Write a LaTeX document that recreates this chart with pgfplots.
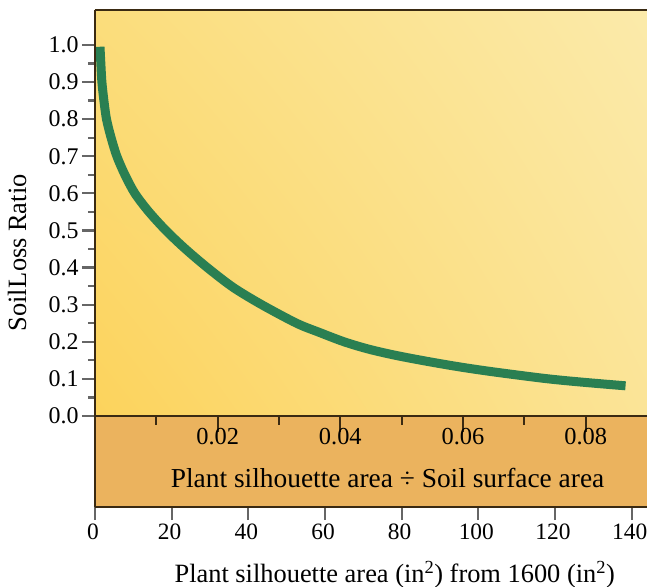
\documentclass[border=0pt]{standalone}
\usepackage{pgfplots}
\pgfplotsset{compat=1.18}
\usepackage{pgfplotstable}
\usetikzlibrary{shadings}
\usepackage{fontspec}
\setmainfont{Liberation Serif}

\definecolor{curvegreen}{HTML}{2A7F52}
\definecolor{band}{HTML}{EBB35E}
\definecolor{frame}{HTML}{3A2A12}
\definecolor{tickgray}{HTML}{666666}
\definecolor{yelLL}{HTML}{FCD35C}
\definecolor{yelUL}{HTML}{FBDD7C}
\definecolor{yelLR}{HTML}{FBE497}
\definecolor{yelUR}{HTML}{FBEAAA}

% soil loss ratio vs plant silhouette area (in^2)
\pgfplotstableread{
x     y
1.3   0.995
1.5   0.955
1.8   0.90
2.3   0.852
3.0   0.80
4.2   0.75
5.7   0.70
7.8   0.65
10.4  0.60
14    0.551
18.5  0.50
23.5  0.451
29.3  0.40
36    0.347
43.5  0.30
52.6  0.25
58.5  0.2255
65    0.20
71.5  0.18
78.7  0.163
87.4  0.146
96    0.131
104.7 0.118
118   0.1005
128   0.0905
138.4 0.0815
}\soilloss

\begin{document}
\begin{tikzpicture}[x=1bp,y=1bp]
\begin{axis}[
	name=main, at={(0,0)}, anchor=south west,
	scale only axis, width=552bp, height=497bp,
	xmin=0, xmax=144, ymin=-0.245, ymax=1.094,
	axis on top,
	axis x line*=bottom, axis y line*=left,
	axis line style={frame, line width=1.6bp},
	tick align=outside,
	major tick length=13bp, minor tick length=7bp,
	every tick/.style={tickgray, line width=2.2bp},
	ytick={0,0.1,0.2,0.3,0.4,0.5,0.6,0.7,0.8,0.9,1.0},
	minor ytick={0.05,0.15,0.25,0.35,0.45,0.55,0.65,0.75,0.85,0.95},
	xtick={0,20,40,60,80,100,120,140},
	tick label style={font=\fontsize{24}{24}\selectfont},
	yticklabel style={/pgf/number format/.cd, fixed, fixed zerofill, precision=1, assume math mode=true},
	xticklabel style={/pgf/number format/assume math mode=true, font=\fontsize{23.5}{23.5}\selectfont, xshift=-2bp},
	label style={font=\fontsize{26.5}{26.5}\selectfont},
	xlabel={Plant silhouette area (in\textsuperscript{2}) from 1600 (in\textsuperscript{2})},
	xlabel style={at={(axis description cs:0.543,0)}, anchor=center, yshift=-68bp},
	ylabel={Soil\hspace{1pt}Loss Ratio},
	ylabel style={at={(axis description cs:-0.1413,0.511)}, anchor=center},
]
	\shade[lower left=yelLL, upper left=yelUL, lower right=yelLR, upper right=yelUR]
		(axis cs:0,0) rectangle (axis cs:144,1.094);
	\fill[band] (axis cs:0,-0.245) rectangle (axis cs:144,0);
	\addplot[curvegreen, line width=9bp, line cap=butt, smooth, no markers] table[x=x, y=y] {\soilloss};
	\draw[frame, line width=1.6bp] (axis cs:0,0) -- (axis cs:144,0);
	\draw[frame, line width=3bp] (axis cs:0,1.094) -- (axis cs:144,1.094);
\end{axis}

\begin{axis}[
	at={(0,0)}, anchor=south west,
	scale only axis, width=552bp, height=91bp,
	xmin=0, xmax=0.09, ymin=0, ymax=1,
	axis line style={draw=none},
	ytick=\empty,
	xtick={0.02,0.04,0.06,0.08},
	minor xtick={0.01,0.03,0.05,0.07},
	xtick pos=upper, xticklabel pos=upper,
	tick align=inside,
	major tick length=16bp, minor tick length=9bp,
	every tick/.style={frame, line width=2bp},
	scaled x ticks=false,
	tick label style={font=\fontsize{24.5}{24.5}\selectfont},
	xticklabel style={/pgf/number format/.cd, fixed, fixed zerofill, precision=2, assume math mode=true, /tikz/.cd, anchor=center, yshift=-21bp},
	xlabel={Plant silhouette area \textdiv{} Soil surface area},
	xlabel style={font=\fontsize{27.5}{27.5}\selectfont, at={(axis description cs:0.53,0.32)}, anchor=center},
]
\end{axis}
\pgfresetboundingbox
\path (-95bp,-80bp) rectangle (552bp,507bp);
\end{tikzpicture}
\end{document}
